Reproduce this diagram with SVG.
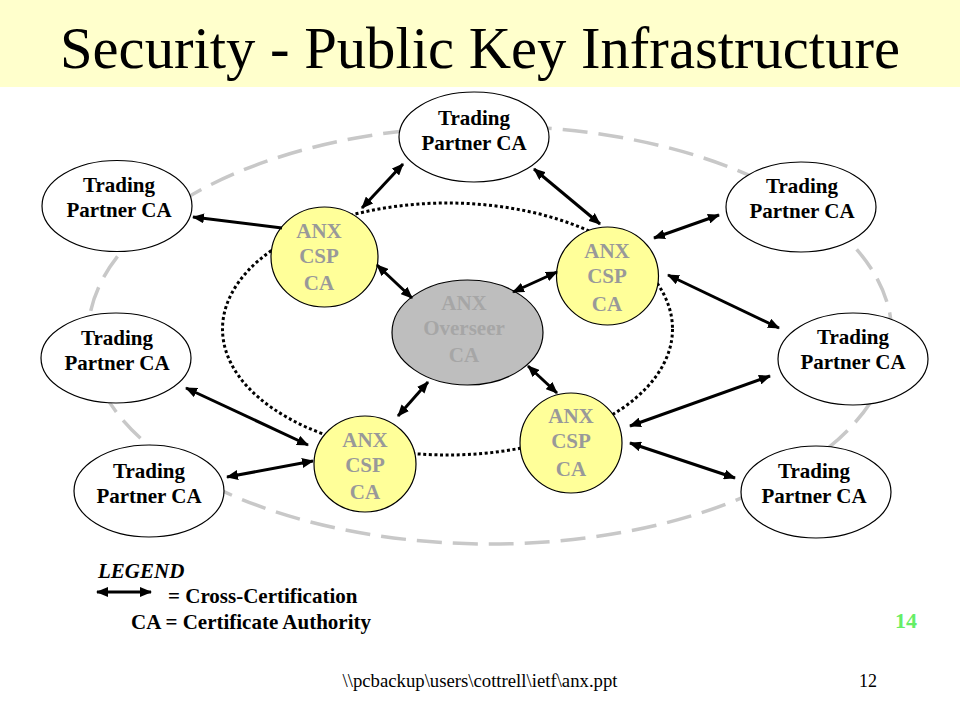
<svg xmlns="http://www.w3.org/2000/svg" width="960" height="720" viewBox="0 0 960 720">
<defs>
<marker id="ah" viewBox="0 0 12 10" refX="11" refY="5" markerWidth="12" markerHeight="10" markerUnits="userSpaceOnUse" orient="auto-start-reverse">
<path d="M0,0 L12,5 L0,10 Z" fill="#000"/>
</marker>
<style>
.tp{fill:#fff;stroke:#000;stroke-width:1.2}
.csp{fill:#FFFF99;stroke:#000;stroke-width:1.2}
.ov{fill:#BEBEBE;stroke:#000;stroke-width:1.2}
.t{font-family:"Liberation Serif","Times New Roman",serif;font-weight:bold;font-size:21px;text-anchor:middle}
.tb{fill:#000}
.tg{fill:#999999}
.to{fill:#A6A6A6}
.c line{stroke:#000;stroke-width:3;marker-start:url(#ah);marker-end:url(#ah)}
.lg{font-family:"Liberation Serif","Times New Roman",serif;font-weight:bold;font-size:21px;fill:#000}
</style>
</defs>
<rect x="0" y="0" width="960" height="720" fill="#fff"/>
<rect x="0" y="0" width="960" height="87" fill="#FFFFCC"/>
<text x="480" y="68" text-anchor="middle" font-family="'Liberation Serif','Times New Roman',serif" font-size="60" textLength="840" lengthAdjust="spacingAndGlyphs" fill="#000">Security - Public Key Infrastructure</text>

<g id="rings">
<ellipse cx="490" cy="335" rx="402" ry="209" fill="none" stroke="#C8C8C8" stroke-width="3.5" stroke-dasharray="25 11"/>
<ellipse cx="447.5" cy="329" rx="225" ry="126" fill="none" stroke="#000" stroke-width="3" stroke-dasharray="3 2.6"/>
</g>

<g id="tp-top"><ellipse class="tp" cx="474" cy="137" rx="75" ry="45"/><text class="t tb" x="474" y="125">Trading</text><text class="t tb" x="474" y="150">Partner CA</text></g>
<g id="tp-lt"><ellipse class="tp" cx="117" cy="206" rx="75" ry="45.5"/><text class="t tb" x="119" y="192">Trading</text><text class="t tb" x="119" y="217">Partner CA</text></g>
<g id="tp-rt"><ellipse class="tp" cx="801" cy="207" rx="75" ry="45"/><text class="t tb" x="802" y="193">Trading</text><text class="t tb" x="802" y="218">Partner CA</text></g>
<g id="tp-lm"><ellipse class="tp" cx="116" cy="358" rx="75" ry="45"/><text class="t tb" x="117" y="345">Trading</text><text class="t tb" x="117" y="370">Partner CA</text></g>
<g id="tp-lb"><ellipse class="tp" cx="149" cy="491" rx="75" ry="46"/><text class="t tb" x="149" y="478">Trading</text><text class="t tb" x="149" y="503">Partner CA</text></g>
<g id="tp-rm"><ellipse class="tp" cx="853" cy="359" rx="75" ry="46"/><text class="t tb" x="853" y="344">Trading</text><text class="t tb" x="853" y="369">Partner CA</text></g>
<g id="tp-rb"><ellipse class="tp" cx="816" cy="492" rx="75" ry="46"/><text class="t tb" x="814" y="478">Trading</text><text class="t tb" x="814" y="503">Partner CA</text></g>

<g id="csp-a"><ellipse class="csp" cx="324.5" cy="257" rx="53.5" ry="50"/><text class="t tg" x="319" y="238">ANX</text><text class="t tg" x="319" y="263">CSP</text><text class="t tg" x="319" y="290">CA</text></g>
<g id="csp-b"><ellipse class="csp" cx="607.5" cy="276" rx="51" ry="49"/><text class="t tg" x="607" y="258">ANX</text><text class="t tg" x="607" y="283">CSP</text><text class="t tg" x="607" y="311">CA</text></g>
<g id="csp-c"><ellipse class="csp" cx="365" cy="464" rx="51" ry="48"/><text class="t tg" x="365" y="447">ANX</text><text class="t tg" x="365" y="472">CSP</text><text class="t tg" x="365" y="499">CA</text></g>
<g id="csp-d"><ellipse class="csp" cx="571" cy="443" rx="51" ry="50"/><text class="t tg" x="571" y="423">ANX</text><text class="t tg" x="571" y="448">CSP</text><text class="t tg" x="571" y="476">CA</text></g>
<g id="overseer"><ellipse class="ov" cx="467.5" cy="332.5" rx="75.5" ry="52.5"/><text class="t to" x="464" y="310">ANX</text><text class="t to" x="464" y="335">Overseer</text><text class="t to" x="464" y="362">CA</text></g>

<g id="connectors" class="c">
<line x1="403" y1="164" x2="362" y2="208"/>
<line x1="193" y1="217" x2="282" y2="228" style="marker-end:none"/>
<line x1="377" y1="265" x2="412" y2="298"/>
<line x1="534" y1="169" x2="600" y2="224"/>
<line x1="654" y1="238" x2="719" y2="215"/>
<line x1="668" y1="275" x2="779" y2="328"/>
<line x1="513" y1="292" x2="557" y2="272"/>
<line x1="528" y1="366" x2="557" y2="393"/>
<line x1="428" y1="382" x2="398" y2="416"/>
<line x1="186" y1="388" x2="308" y2="445"/>
<line x1="227" y1="477" x2="313" y2="461"/>
<line x1="630" y1="426" x2="770" y2="376"/>
<line x1="630" y1="443" x2="735" y2="478"/>
</g>

<g id="legend">
<text class="lg" x="98" y="578" font-style="italic">LEGEND</text>
<g class="c"><line x1="97" y1="592" x2="151" y2="592"/></g>
<text class="lg" x="168" y="603">= Cross-Certification</text>
<text class="lg" x="131" y="629">CA = Certificate Authority</text>
</g>
<text x="906" y="628" text-anchor="middle" font-family="'Liberation Serif','Times New Roman',serif" font-weight="bold" font-size="22" fill="#66EE66">14</text>
<text x="480" y="687" text-anchor="middle" font-family="'Liberation Serif','Times New Roman',serif" font-size="18" textLength="275" lengthAdjust="spacingAndGlyphs" fill="#000">\\pcbackup\users\cottrell\ietf\anx.ppt</text>
<text x="868" y="687" text-anchor="middle" font-family="'Liberation Serif','Times New Roman',serif" font-size="18" fill="#000">12</text>
</svg>
